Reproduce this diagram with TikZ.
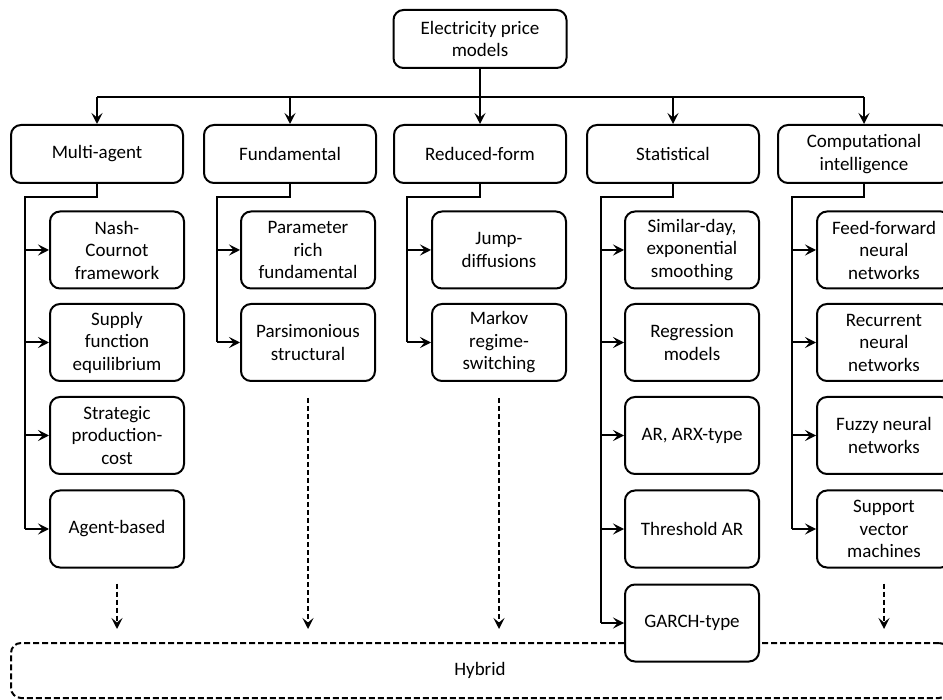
\documentclass[tikz,border=0pt]{standalone}
\usepackage{fontspec}
\setmainfont{Carlito}
\usetikzlibrary{arrows.meta}
\tikzset{
  box/.style={draw, line width=2pt, rounded corners=10pt, align=center,
    font=\fontsize{19}{22.5}\selectfont, inner sep=2pt, fill=white},
  catbox/.style={box, minimum width=172pt, minimum height=58pt},
  kidbox/.style={box, minimum width=134pt, minimum height=77pt},
  lw/.style={line width=2pt},
  conn/.style={line width=2pt, -{Stealth[length=11pt,width=11pt,inset=4.5pt]}},
  dconn/.style={conn, dash pattern=on 5pt off 3pt},
}
\begin{document}
\begin{tikzpicture}[x=1pt,y=-1pt]
\useasboundingbox (0,0) rectangle (943,700);
\clip (0,0) rectangle (943,700);

% hybrid (drawn first, GARCH box overlaps it)
\node[draw, line width=2pt, dash pattern=on 6pt off 3pt, rounded corners=10pt,
  minimum width=938pt, minimum height=55pt, font=\fontsize{19}{22.5}\selectfont] (hy) at (480,670.5) {Hybrid};

% top
\node[box, minimum width=173pt, minimum height=58pt] (top) at (480,39) {Electricity price\\models};

% categories
\node[catbox] (ma) at (97,154) {Multi-agent};
\node[catbox] (fu) at (290,154) {Fundamental};
\node[catbox] (rf) at (480,154) {Reduced-form};
\node[catbox] (st) at (673,154) {Statistical};
\node[catbox] (ci) at (864,154) {Computational\\intelligence};

% bus
\coordinate (bus) at (480,97);
\draw[lw] (top.south) -- (bus);
\draw[lw] (ma.north |- bus) -- (ci.north |- bus);
\foreach \c in {ma,fu,rf,st,ci}{
  \draw[conn] (\c.north |- bus) -- (\c.north);
}

% children: multi-agent
\node[kidbox] (ma1) at (117,250) {Nash-\\Cournot\\framework};
\node[kidbox] (ma2) at (117,342.5) {Supply\\function\\equilibrium};
\node[kidbox] (ma3) at (117,435.5) {Strategic\\production-\\cost};
\node[kidbox] (ma4) at (117,529) {Agent-based};

% fundamental
\node[kidbox] (fu1) at (308,250) {Parameter\\rich\\fundamental};
\node[kidbox] (fu2) at (308,342.5) {Parsimonious\\structural};

% reduced-form
\node[kidbox] (rf1) at (499,250) {Jump-\\diffusions};
\node[kidbox] (rf2) at (499,342.5) {Markov\\regime-\\switching};

% statistical
\node[kidbox] (st1) at (692,250) {Similar-day,\\exponential\\smoothing};
\node[kidbox] (st2) at (692,342.5) {Regression\\models};
\node[kidbox] (st3) at (692,435.5) {AR, ARX-type};
\node[kidbox] (st4) at (692,529) {Threshold AR};
\node[kidbox] (st5) at (692,623) {GARCH-type};

% computational intelligence
\node[kidbox] (ci1) at (884,250) {Feed-forward\\neural\\networks};
\node[kidbox] (ci2) at (884,342.5) {Recurrent\\neural\\networks};
\node[kidbox] (ci3) at (884,435.5) {Fuzzy neural\\networks};
\node[kidbox] (ci4) at (884,529) {Support\\vector\\machines};

% trunks
\coordinate (maT) at (25,197);
\coordinate (fuT) at (217,197);
\coordinate (rfT) at (407,197);
\coordinate (stT) at (601,197);
\coordinate (ciT) at (792,197);

\draw[lw] (ma.south) |- (maT) -- (maT |- ma4.west);
\foreach \i in {1,...,4}{ \draw[conn] (maT |- ma\i.west) -- (ma\i.west); }
\draw[lw] (fu.south) |- (fuT) -- (fuT |- fu2.west);
\foreach \i in {1,2}{ \draw[conn] (fuT |- fu\i.west) -- (fu\i.west); }
\draw[lw] (rf.south) |- (rfT) -- (rfT |- rf2.west);
\foreach \i in {1,2}{ \draw[conn] (rfT |- rf\i.west) -- (rf\i.west); }
\draw[lw] (st.south) |- (stT) -- (stT |- st5.west);
\foreach \i in {1,...,5}{ \draw[conn] (stT |- st\i.west) -- (st\i.west); }
\draw[lw] (ci.south) |- (ciT) -- (ciT |- ci4.west);
\foreach \i in {1,...,4}{ \draw[conn] (ciT |- ci\i.west) -- (ci\i.west); }

% dashed arrows to hybrid
\draw[dconn] ([yshift=-15pt]ma4.south) -- ([yshift=13pt]ma4.south |- hy.north);
\draw[dconn] ([yshift=-16pt]fu2.south) -- ([yshift=13pt]fu2.south |- hy.north);
\draw[dconn] ([yshift=-16pt]rf2.south) -- ([yshift=13pt]rf2.south |- hy.north);
\draw[dconn] ([yshift=-15pt]ci4.south) -- ([yshift=13pt]ci4.south |- hy.north);
\end{tikzpicture}
\end{document}
